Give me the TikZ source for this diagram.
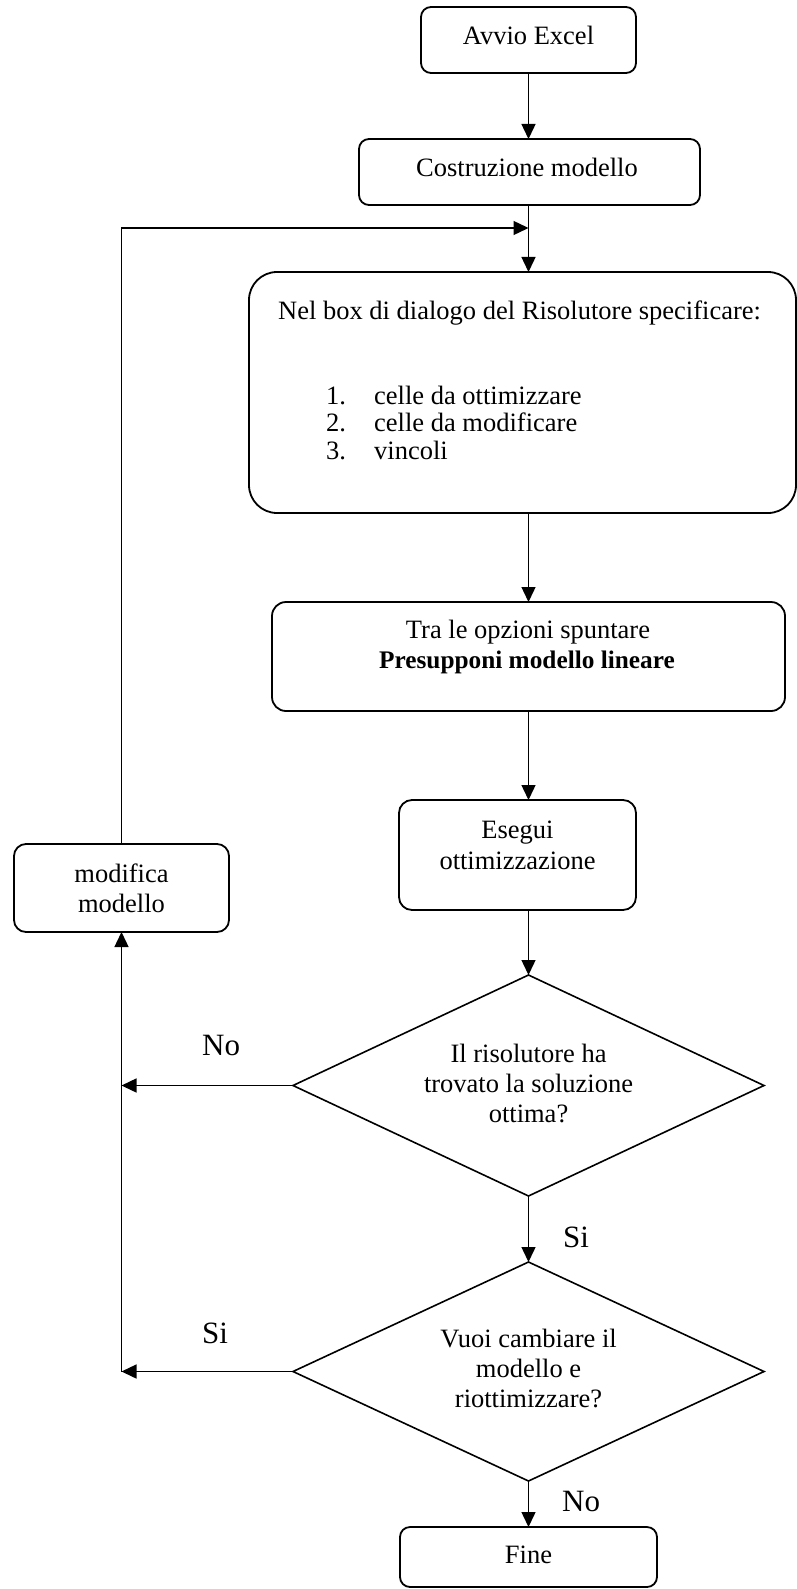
\documentclass[tikz,border=0pt]{standalone}
\usepackage{fontspec}
\setmainfont{Liberation Serif}
\usetikzlibrary{shapes.geometric,arrows.meta}
\tikzset{
  shp/.style={draw, line width=1.8pt, inner sep=0pt, outer sep=0pt},
  rbox/.style={shp, rectangle, rounded corners=#1},
  rbox/.default=10pt,
  dec/.style={shp, diamond, line width=1.6pt},
  txt/.style={font=\fontsize{26.5}{30}\selectfont, inner sep=0pt, anchor=base},
  txtl/.style={txt, anchor=base west},
  lbl/.style={font=\fontsize{31}{36}\selectfont, inner sep=0pt, anchor=base west},
  conn/.style={line width=1.4pt, -{Triangle[length=15pt,width=14pt]}},
  wire/.style={line width=1.4pt}
}
\begin{document}
\begin{tikzpicture}[x=1pt,y=-1pt]
\useasboundingbox (0,0) rectangle (797,1589);
% shapes
\node[rbox, minimum width=215pt, minimum height=66pt] (avvio) at (528.5,40) {};
\node[rbox, minimum width=341pt, minimum height=66pt] (costr) at (529.5,172) {};
\node[rbox=28pt, minimum width=547pt, minimum height=241pt] (big) at (522.5,392.5) {};
\node[rbox=14pt, minimum width=513pt, minimum height=109pt] (tra) at (528.5,656.5) {};
\node[rbox=13pt, minimum width=237pt, minimum height=110pt] (ese) at (517.5,855) {};
\node[rbox=12pt, minimum width=215pt, minimum height=88pt] (mod) at (121.5,888) {};
\node[dec, minimum width=471pt, minimum height=221pt] (d1) at (528.5,1085.5) {};
\node[dec, minimum width=471pt, minimum height=219pt] (d2) at (528.5,1371.5) {};
\node[rbox, minimum width=257pt, minimum height=60pt] (fine) at (528.5,1557) {};
% texts
\node[txt] (tavvio) at (528.5,45) {Avvio Excel};
\node[txt] (tcostr) at (527,177) {Costruzione modello};
\node[txtl] (tbig) at (278,319) {Nel box di dialogo del Risolutore specificare:};
\node[txtl] (tl1) at (326,404) {\makebox[48pt][l]{1.}celle da ottimizzare};
\node[txtl] (tl2) at (326,431.5) {\makebox[48pt][l]{2.}celle da modificare};
\node[txtl] (tl3) at (326,459) {\makebox[48pt][l]{3.}vincoli};
\node[txt] (ttra1) at (528,638) {Tra le opzioni spuntare};
\node[txt, font=\fontsize{25.3}{30}\selectfont\bfseries] (ttra2) at (527,668) {Presupponi modello lineare};
\node[txt] (tese1) at (517.5,838) {Esegui};
\node[txt] (tese2) at (517.5,869) {ottimizzazione};
\node[txt] (tmod1) at (121.5,882) {modifica};
\node[txt] (tmod2) at (121.5,912) {modello};
\node[txt] (td1a) at (528.5,1062) {Il risolutore ha};
\node[txt] (td1b) at (528.5,1092) {trovato la soluzione};
\node[txt] (td1c) at (528.5,1122) {ottima?};
\node[txt] (td2a) at (528.5,1347) {Vuoi cambiare il};
\node[txt] (td2b) at (528.5,1377) {modello e};
\node[txt] (td2c) at (528.5,1407) {riottimizzare?};
\node[txt] (tfine) at (528.5,1563) {Fine};
% labels
\node[lbl] (lno1) at (202,1055) {No};
\node[lbl] (lsi1) at (563,1247) {Si};
\node[lbl] (lsi2) at (202,1343) {Si};
\node[lbl] (lno2) at (562,1511) {No};
% connectors
\coordinate (join) at (528.5,228);
\draw[conn] (avvio.south) -- (avvio.south |- costr.north);
\draw[conn] (join |- costr.south) -- (join |- big.north);
\draw[conn] (mod.north) |- (join);
\draw[conn] (join |- big.south) -- (join |- tra.north);
\draw[conn] (tra.south) -- (tra.south |- ese.north);
\draw[conn] (tra.south |- ese.south) -- (d1.north);
\draw[conn] (d1.south) -- (d2.north);
\draw[conn] (d2.south) -- (fine.north);
\draw[conn] (d1.west) -- (d1.west -| mod.south);
\draw[conn] (d2.west) -- (d2.west -| mod.south);
\draw[conn] (d2.west -| mod.south) -- (mod.south);
\end{tikzpicture}
\end{document}
